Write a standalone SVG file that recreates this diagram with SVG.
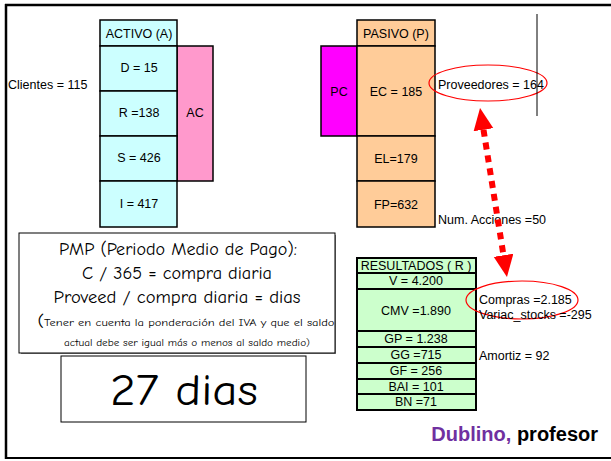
<svg xmlns="http://www.w3.org/2000/svg" width="611" height="461" viewBox="0 0 611 461">
<defs>
<style>
.t{font-family:"Liberation Sans",Arial,sans-serif;font-size:12.5px;fill:#000}
.c{text-anchor:middle}
.cell{stroke:#000;stroke-width:1.5}
.res{fill:#CCFFCC;stroke:#000;stroke-width:2}
.cy{fill:#CCFFFF}
.pe{fill:#FFCC99}
.cm{font-family:"Comic Neue","DejaVu Sans",sans-serif;fill:#000;text-anchor:middle}
.oval{fill:none;stroke:#FF0000;stroke-width:1.2}
</style>
<marker id="ah" markerUnits="userSpaceOnUse" markerWidth="24" markerHeight="22" refX="0" refY="10" orient="auto-start-reverse">
<path d="M0,0 L22,10 L0,20 Z" fill="#FF0000"/>
</marker>
</defs>
<rect width="611" height="461" fill="#fff"/>
<g id="frame" fill="none" stroke="#000">
<path d="M5,5 H611" stroke-width="2.5"/>
<path d="M6,4 V459" stroke-width="2.5"/>
<path d="M5,458 H611" stroke-width="2"/>
</g>
<g id="activo">
<rect class="cell cy" x="100" y="20" width="77" height="26"/>
<text class="t c" x="139" y="38">ACTIVO (A)</text>
<rect class="cell" x="177" y="46" width="36" height="135" fill="#FF99CC"/>
<text class="t c" x="195" y="117">AC</text>
<rect class="cell cy" x="100" y="46" width="77" height="45"/>
<text class="t c" x="139" y="72">D = 15</text>
<rect class="cell cy" x="100" y="91" width="77" height="45"/>
<text class="t c" x="139" y="117">R =138</text>
<rect class="cell cy" x="100" y="136" width="77" height="45"/>
<text class="t c" x="139" y="162">S = 426</text>
<rect class="cell cy" x="100" y="181" width="77" height="46"/>
<text class="t c" x="139" y="208">I = 417</text>
</g>
<g id="clientes"><text class="t" x="8" y="89">Clientes = 115</text></g>
<g id="pasivo">
<rect class="cell pe" x="357" y="20" width="78" height="26"/>
<text class="t c" x="396" y="38">PASIVO (P)</text>
<rect class="cell" x="321" y="46" width="36" height="90" fill="#FF00FF"/>
<text class="t c" x="339" y="96">PC</text>
<rect class="cell pe" x="357" y="46" width="78" height="90"/>
<text class="t c" x="396" y="96">EC = 185</text>
<rect class="cell pe" x="357" y="136" width="78" height="45"/>
<text class="t c" x="396" y="163">EL=179</text>
<rect class="cell pe" x="357" y="181" width="78" height="46"/>
<text class="t c" x="396" y="209">FP=632</text>
</g>
<g id="proveedores">
<ellipse class="oval" cx="488" cy="83" rx="59" ry="18"/>
<text class="t" x="438" y="89">Proveedores = 164</text>
</g>
<path d="M537,14 V116" stroke="#000" stroke-width="1"/>
<g id="acciones"><text class="t" x="438" y="224">Num. Acciones =50</text></g>
<g id="resultados">
<rect class="res" x="357" y="258" width="119" height="15"/>
<text class="t c" x="416" y="270">RESULTADOS  ( R )</text>
<rect class="res" x="357" y="273" width="119" height="16"/>
<text class="t c" x="416" y="285">V = 4.200</text>
<rect class="res" x="357" y="289" width="119" height="42"/>
<text class="t c" x="416" y="315">CMV =1.890</text>
<rect class="res" x="357" y="331" width="119" height="16"/>
<text class="t c" x="416" y="343">GP = 1.238</text>
<rect class="res" x="357" y="347" width="119" height="16"/>
<text class="t c" x="416" y="359">GG =715</text>
<rect class="res" x="357" y="363" width="119" height="16"/>
<text class="t c" x="416" y="375">GF = 256</text>
<rect class="res" x="357" y="379" width="119" height="15"/>
<text class="t c" x="416" y="391">BAI = 101</text>
<rect class="res" x="357" y="394" width="119" height="16"/>
<text class="t c" x="416" y="406">BN =71</text>
</g>
<g id="compras">
<ellipse class="oval" cx="522" cy="300" rx="56" ry="19"/>
<text class="t" x="479" y="304">Compras =2.185</text>
<text class="t" x="479" y="319">Variac_stocks =-295</text>
<text class="t" x="479" y="360">Amortiz = 92</text>
</g>
<g id="connectors">
<path d="M483.5,129.7 L503.5,255.3" stroke="#FF0000" stroke-width="6" stroke-dasharray="7 6" fill="none" marker-start="url(#ah)" marker-end="url(#ah)"/>
</g>
<g id="pmp">
<rect x="21" y="235" width="315" height="119" fill="#888"/>
<rect x="19" y="233" width="316" height="120" fill="#fff" stroke="#000" stroke-width="1"/>
<text class="cm" x="178" y="255" font-size="18" textLength="238" lengthAdjust="spacingAndGlyphs">PMP (Periodo Medio de Pago):</text>
<text class="cm" x="177" y="279" font-size="18" textLength="190" lengthAdjust="spacingAndGlyphs">C / 365 = compra diaria</text>
<text class="cm" x="177" y="303" font-size="18" textLength="247" lengthAdjust="spacingAndGlyphs">Proveed / compra diaria = dias</text>
<text class="cm" x="186" y="326" font-size="10.5" textLength="297" lengthAdjust="spacingAndGlyphs"><tspan font-size="16">(</tspan>Tener en cuenta la ponderación del IVA y que el saldo</text>
<text class="cm" x="187" y="346" font-size="10.5" textLength="246" lengthAdjust="spacingAndGlyphs">actual debe ser igual más o menos al saldo medio)</text>
</g>
<g id="dias">
<rect x="61" y="356" width="245" height="66" fill="#fff" stroke="#000" stroke-width="1"/>
<text class="cm" x="184" y="405" font-size="44" textLength="148" lengthAdjust="spacingAndGlyphs">27 dias</text>
</g>
<g id="autor">
<text x="598" y="441" text-anchor="end" font-family="Liberation Sans,Arial,sans-serif" font-weight="bold" font-size="20"><tspan fill="#7030A0">Dublino,</tspan> <tspan fill="#000">profesor</tspan></text>
</g>
</svg>
